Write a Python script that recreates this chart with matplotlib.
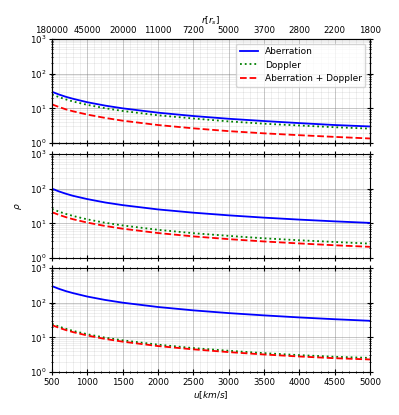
import matplotlib
matplotlib.use("Agg")
import matplotlib.pyplot as plt
from matplotlib.ticker import MultipleLocator

plt.rcParams['font.size'] = 6.5

# speeds (km/s) and corresponding distances on the top axis
u = [500, 600, 700, 800, 1000, 1250, 1500, 2000, 2500, 3000, 3500, 4000, 4500, 5000]
u_ticks = [500, 1000, 1500, 2000, 2500, 3000, 3500, 4000, 4500, 5000]
r_labels = ['180000', '45000', '20000', '11000', '7200', '5000', '3700', '2800', '2200', '1800']

# panel 1
ab1 = [30, 25, 21.4, 18.8, 15, 12, 10, 7.5, 6, 5, 4.3, 3.75, 3.3, 3.0]
dop1 = [25, 21, 18, 15.7, 12.6, 10.1, 8.4, 6.3, 5.1, 4.2, 3.6, 3.2, 2.85, 2.6]
abdop1 = [13, 10.9, 9.3, 8.2, 6.6, 5.3, 4.4, 3.3, 2.65, 2.2, 1.9, 1.68, 1.5, 1.35]
# panel 2
ab2 = [100, 83, 71, 62, 50, 40, 33.5, 25.2, 20.3, 17, 14.6, 12.8, 11.4, 10.3]
dop2 = [26, 21.7, 18.6, 16.3, 13, 10.4, 8.7, 6.5, 5.2, 4.35, 3.7, 3.25, 2.9, 2.6]
abdop2 = [21, 17.5, 15, 13.1, 10.5, 8.4, 7, 5.25, 4.2, 3.5, 3.0, 2.63, 2.33, 2.1]
# panel 3
ab3 = [300, 250, 214, 188, 150, 120, 100, 75, 60, 50, 43, 37.5, 33.3, 30]
dop3 = [24.5, 20.4, 17.5, 15.3, 12.3, 9.8, 8.2, 6.15, 4.9, 4.1, 3.5, 3.07, 2.75, 2.55]
abdop3 = [22.5, 18.8, 16.1, 14.1, 11.3, 9.0, 7.5, 5.6, 4.5, 3.75, 3.2, 2.8, 2.5, 2.3]

panels = [(ab1, dop1, abdop1), (ab2, dop2, abdop2), (ab3, dop3, abdop3)]

fig = plt.figure(figsize=(3.99, 4.15), dpi=100)
W, H = 399, 415
tops = [39, 154, 268]
axes = []
for top in tops:
    ax = fig.add_axes([52 / W, 1 - (top + 104) / H, 318 / W, 104 / H])
    axes.append(ax)

for ax, (ab, dop, abdop) in zip(axes, panels):
    ax.plot(u, ab, color='b', linestyle='-', linewidth=1.3, label='Aberration')
    ax.plot(u, dop, color='g', linestyle=':', linewidth=1.3, label='Doppler')
    ax.plot(u, abdop, color='r', linestyle='--', linewidth=1.3, label='Aberration + Doppler')
    ax.set_yscale('log')
    ax.set_ylim(1, 1000)
    ax.set_xlim(500, 5000)
    ax.set_xticks(u_ticks)
    ax.xaxis.set_minor_locator(MultipleLocator(100))
    ax.grid(which='major', color='gray', alpha=0.45, linewidth=0.7)
    ax.grid(which='minor', color='gray', alpha=0.15, linewidth=0.6)
    ax.tick_params(which='both', direction='inout', top=True, right=True)
    ax.tick_params(which='major', length=4, labelsize=6.2, pad=2)
    ax.tick_params(which='minor', length=2)
    if ax is not axes[-1]:
        ax.set_xticklabels([])

axes[0].legend(loc='upper right', fontsize=6.5)
axes[1].set_ylabel(r'$\rho$')
axes[2].set_xlabel(r'$u[km/s]$', labelpad=2)

# distance axis on top
top_ax = axes[0].twiny()
top_ax.set_xlim(500, 5000)
top_ax.set_xticks(u_ticks)
top_ax.set_xticklabels(r_labels)
top_ax.tick_params(length=0, pad=3, labelsize=6.2)
top_ax.set_xlabel(r'$r[r_s]$', labelpad=2)

fig.savefig('out.png', dpi=100)
